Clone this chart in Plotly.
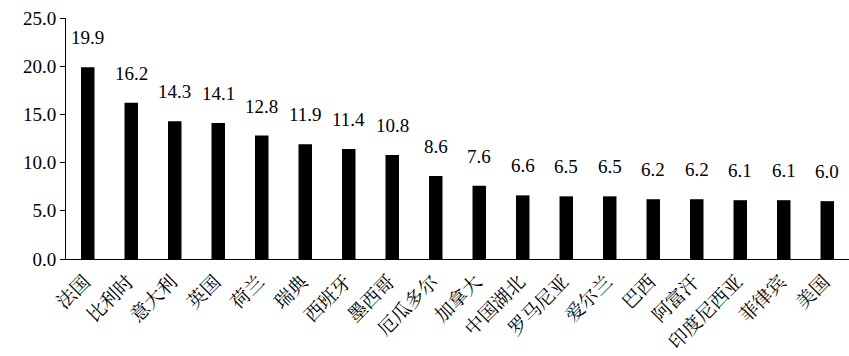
import plotly.graph_objects as go

countries = ["法国", "比利时", "意大利", "英国", "荷兰", "瑞典", "西班牙", "墨西哥", "厄瓜多尔",
             "加拿大", "中国湖北", "罗马尼亚", "爱尔兰", "巴西", "阿富汗", "印度尼西亚", "菲律宾", "美国"]
values = [19.9, 16.2, 14.3, 14.1, 12.8, 11.9, 11.4, 10.8, 8.6, 7.6, 6.6, 6.5, 6.5, 6.2, 6.2, 6.1, 6.1, 6.0]
y_ticks = [0, 5, 10, 15, 20, 25]

num_font = "'Times New Roman', 'Liberation Serif', Times, serif"
cjk_font = "'Noto Serif CJK SC', 'Noto Sans CJK SC', serif"

fig = go.Figure(go.Bar(
    x=countries, y=values, marker=dict(color="black", line=dict(width=0)),
    width=0.31,
))

for c, v in zip(countries, values):
    fig.add_annotation(x=c, y=v, text=f"{v:.1f}", showarrow=False,
                       yanchor="bottom", yshift=17,
                       font=dict(family=num_font, size=19, color="black"))

fig.update_layout(
    width=849, height=356,
    margin=dict(l=66, r=0, t=18, b=97),
    paper_bgcolor="white", plot_bgcolor="white",
    showlegend=False,
    font=dict(family=num_font, size=19, color="black"),
)
fig.update_xaxes(
    showline=True, linecolor="black", linewidth=1,
    ticks="", tickangle=-45, showgrid=False, automargin=False,
    tickfont=dict(family=cjk_font, size=19),
    ticklabelstandoff=3, ticklabelshift=-3,
)
fig.update_yaxes(
    range=[0, 25], tickvals=y_ticks, ticktext=[f"{t:.1f}" for t in y_ticks],
    showline=True, linecolor="black", linewidth=1, automargin=False,
    ticks="outside", ticklen=5, tickcolor="black", showgrid=False, zeroline=False,
    tickfont=dict(family=num_font, size=19),
)

fig.write_html("out.html")
